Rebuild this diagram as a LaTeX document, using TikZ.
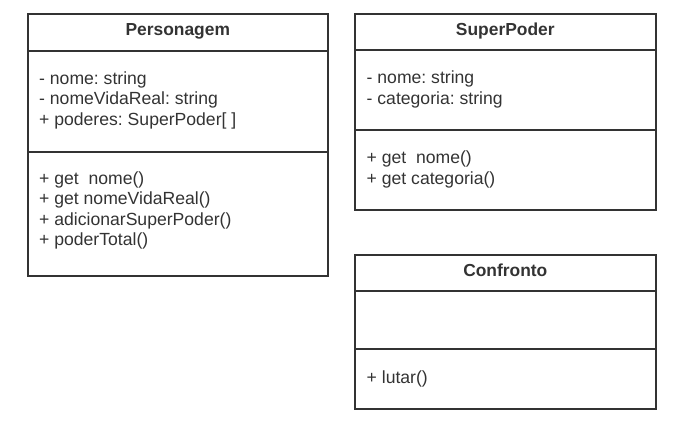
\documentclass[tikz,border=0pt]{standalone}
\usepackage{fontspec}
\setmainfont{Liberation Sans}
\usetikzlibrary{positioning,calc}
\definecolor{umlline}{HTML}{333333}
\definecolor{umltext}{HTML}{333333}
\frenchspacing
\tikzset{
  classbox/.style={draw=umlline, line width=1.6pt, inner sep=0pt, anchor=north west},
  classname/.style={font=\bfseries\fontsize{17.4}{20.5}\selectfont, text=umltext, anchor=base, inner sep=0pt},
  member/.style={font=\fontsize{17.6}{20.5}\selectfont, text=umltext, anchor=base west, inner sep=0pt},
  sep/.style={draw=umlline, line width=1.6pt}
}

\begin{document}
\begin{tikzpicture}[x=1pt,y=-1pt]
\useasboundingbox (0,0) rectangle (677,426);

% Personagem
\node[classbox, minimum width=300pt, minimum height=262pt] (pers) at (27,13) {};
\node[classname] (pers-name) at ($(pers.north)+(0,22)$) {Personagem};
\coordinate (pers-a) at ($(pers.north west)+(0,38)$);
\coordinate (pers-m) at ($(pers.north west)+(0,139)$);
\draw[sep] (pers-a) -- (pers-a -| pers.east);
\draw[sep] (pers-m) -- (pers-m -| pers.east);
\foreach \txt [count=\i from 0] in {- nome: string, - nomeVidaReal: string, + poderes: SuperPoder[ ]}
  \node[member] (pers-attr\i) at ($(pers-a)+(12,33+\i*20.5)$) {\txt};
\foreach \txt [count=\i from 0] in {+ get\ \ nome(), + get nomeVidaReal(), + adicionarSuperPoder(), + poderTotal()}
  \node[member] (pers-op\i) at ($(pers-m)+(12,32+\i*20.5)$) {\txt};

% SuperPoder
\node[classbox, minimum width=301pt, minimum height=196pt] (poder) at (354,13) {};
\node[classname] (poder-name) at ($(poder.north)+(0,22.5)$) {SuperPoder};
\coordinate (poder-a) at ($(poder.north west)+(0,37)$);
\coordinate (poder-m) at ($(poder.north west)+(0,117)$);
\draw[sep] (poder-a) -- (poder-a -| poder.east);
\draw[sep] (poder-m) -- (poder-m -| poder.east);
\foreach \txt [count=\i from 0] in {- nome: string, - categoria: string}
  \node[member] (poder-attr\i) at ($(poder-a)+(12.5,33+\i*21)$) {\txt};
\foreach \txt [count=\i from 0] in {+ get\ \ nome(), + get categoria()}
  \node[member] (poder-op\i) at ($(poder-m)+(12.5,33+\i*21)$) {\txt};

% Confronto
\node[classbox, minimum width=301pt, minimum height=154pt] (conf) at (354,254) {};
\node[classname] (conf-name) at ($(conf.north)+(0,22.5)$) {Confronto};
\coordinate (conf-a) at ($(conf.north west)+(0,37)$);
\coordinate (conf-m) at ($(conf.north west)+(0,95)$);
\draw[sep] (conf-a) -- (conf-a -| conf.east);
\draw[sep] (conf-m) -- (conf-m -| conf.east);
\node[member] (conf-op0) at ($(conf-m)+(12.5,34)$) {+ lutar()};

\end{tikzpicture}
\end{document}
